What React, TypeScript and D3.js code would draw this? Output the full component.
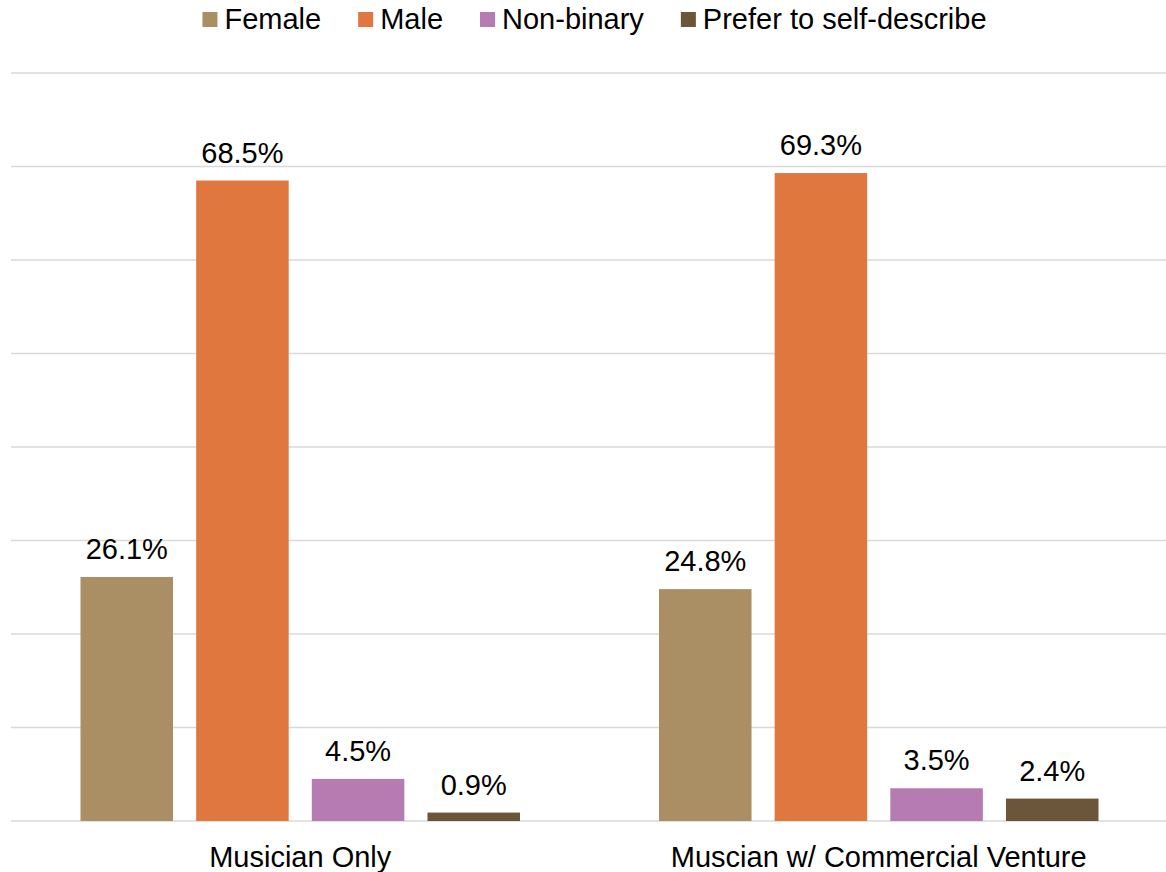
import React, { useEffect, useRef } from "react";
import * as d3 from "d3";

const categories = ["Musician Only", "Muscian w/ Commercial Venture"];
const seriesNames = ["Female", "Male", "Non-binary", "Prefer to self-describe"];
const female = [26.1, 24.8];
const male = [68.5, 69.3];
const nonBinary = [4.5, 3.5];
const preferSelf = [0.9, 2.4];
const gridTicks = [0, 10, 20, 30, 40, 50, 60, 70, 80];

const colors = ["#A98F63", "#E0773E", "#B67BB1", "#6B563A"];
const FONT = "'Liberation Sans', Arial, Helvetica, sans-serif";
const FS = 29;

const W = 1166;
const H = 872;

export default function App() {
  const ref = useRef<SVGSVGElement | null>(null);

  useEffect(() => {
    const svg = d3.select(ref.current);
    svg.selectAll("*").remove();

    const series = [female, male, nonBinary, preferSelf];
    const left = 11;
    const right = 1168;
    const top = 73;
    const bottom = 821;

    const x0 = d3.scaleBand<string>().domain(categories).range([left, right]).paddingInner(0).paddingOuter(0);
    const x1 = d3
      .scaleBand<string>()
      .domain(seriesNames)
      .range([69.5, x0.bandwidth() - 69.5])
      .paddingInner(0.2)
      .paddingOuter(0);
    const y = d3.scaleLinear().domain([0, 80]).range([bottom, top]);

    // gridlines
    svg
      .append("g")
      .selectAll("line")
      .data(gridTicks)
      .join("line")
      .attr("x1", left)
      .attr("x2", right)
      .attr("y1", (d) => y(d))
      .attr("y2", (d) => y(d))
      .attr("stroke", "#d9d9d9")
      .attr("stroke-width", 1.5);

    // bars and value labels
    const groups = svg
      .append("g")
      .selectAll("g")
      .data(categories)
      .join("g")
      .attr("transform", (c) => `translate(${x0(c)},0)`);

    groups.each(function (c, ci) {
      const g = d3.select(this);
      seriesNames.forEach((s, si) => {
        const v = series[si][ci];
        const bx = x1(s)!;
        g.append("rect")
          .attr("x", bx)
          .attr("y", y(v))
          .attr("width", x1.bandwidth())
          .attr("height", y(0) - y(v))
          .attr("fill", colors[si]);
        g.append("text")
          .attr("x", bx + x1.bandwidth() / 2)
          .attr("y", y(v) - 18)
          .attr("text-anchor", "middle")
          .attr("font-family", FONT)
          .attr("font-size", FS)
          .attr("fill", "#000")
          .text(`${v.toFixed(1)}%`);
      });
    });

    // category labels
    svg
      .append("g")
      .selectAll("text")
      .data(categories)
      .join("text")
      .attr("x", (c) => x0(c)! + x0.bandwidth() / 2)
      .attr("y", 867)
      .attr("text-anchor", "middle")
      .attr("font-family", FONT)
      .attr("font-size", FS)
      .attr("fill", "#000")
      .text((c) => c);

    // legend
    const legend = svg.append("g");
    const items = legend
      .selectAll("g")
      .data(seriesNames)
      .join("g");
    items
      .append("rect")
      .attr("width", 15)
      .attr("height", 15)
      .attr("y", 12)
      .attr("fill", (_, i) => colors[i]);
    items
      .append("text")
      .attr("x", 22)
      .attr("y", 29)
      .attr("font-family", FONT)
      .attr("font-size", FS)
      .attr("fill", "#000")
      .text((d) => d);
    const gap = 37;
    let cx = 0;
    const offsets: number[] = [];
    items.each(function () {
      const t = d3.select(this).select("text").node() as SVGTextElement;
      offsets.push(cx);
      cx += 22 + t.getComputedTextLength() + gap;
    });
    const total = cx - gap;
    const start = 594.5 - total / 2;
    items.attr("transform", (_, i) => `translate(${start + offsets[i]},0)`);
  }, []);

  return (
    <svg ref={ref} width={W} height={H} style={{ display: "block", position: "absolute", left: 0, top: 0, background: "#fff" }} />
  );
}
